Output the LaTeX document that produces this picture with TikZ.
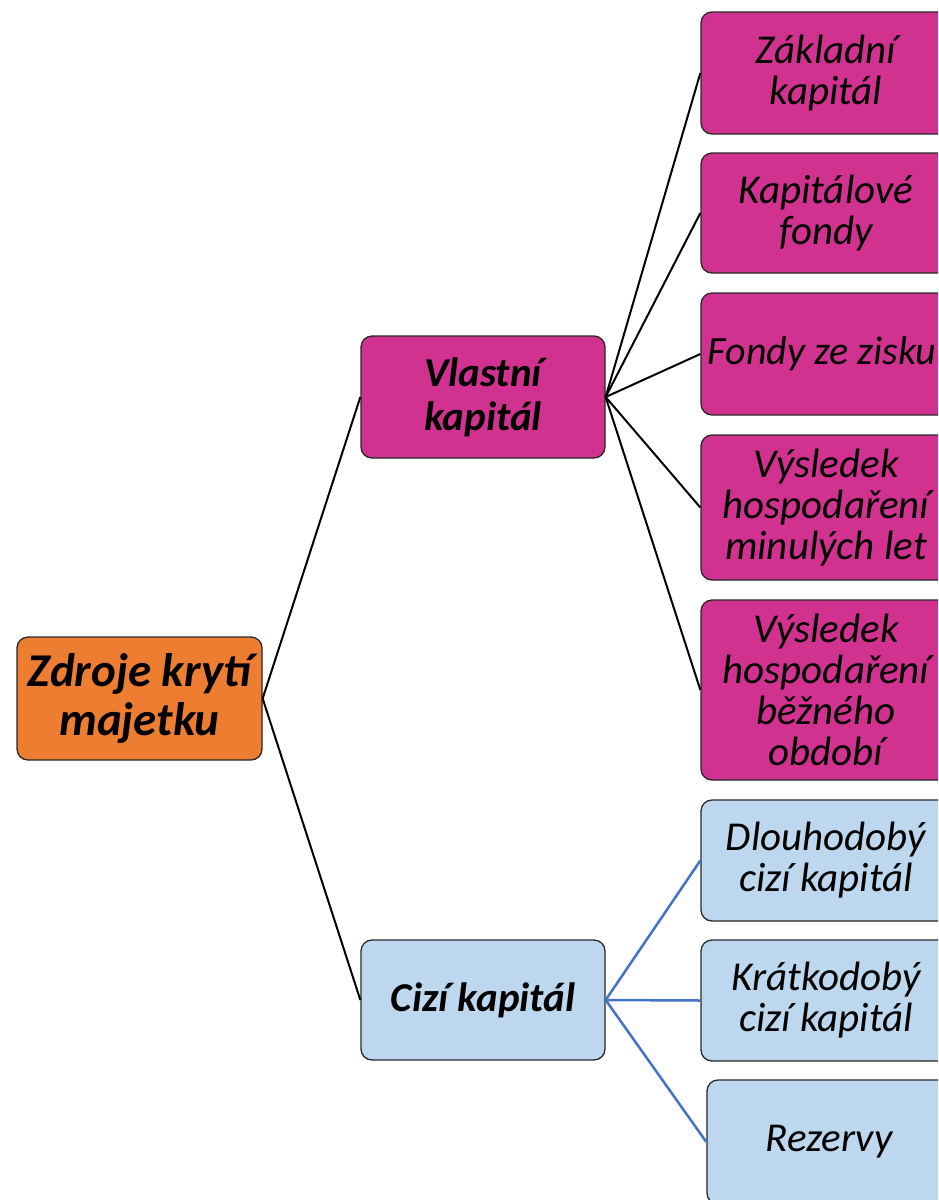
\documentclass[tikz,border=0pt]{standalone}
\usepackage{fontspec}
\setmainfont{Carlito}
\definecolor{rootc}{RGB}{237,125,49}
\definecolor{magc}{RGB}{210,50,143}
\definecolor{bluec}{RGB}{189,215,238}
\definecolor{lineb}{RGB}{68,114,196}
\definecolor{edgec}{RGB}{40,40,40}
\tikzset{
  box/.style={draw=edgec, line width=1.3pt, rounded corners=11pt, align=center, inner sep=0pt, text=black},
  rootbox/.style={box, fill=rootc, font=\fontsize{47}{49}\selectfont\bfseries\itshape},
  midbox/.style={box, font=\fontsize{41}{44}\selectfont\bfseries\itshape},
  leafbox/.style={box, font=\fontsize{41}{41}\selectfont\itshape},
  blk/.style={draw=black, line width=2pt},
  blu/.style={draw=lineb, line width=2.5pt},
}
\begin{document}
\begin{tikzpicture}[x=1pt,y=-1pt]
\useasboundingbox (0,0) rectangle (938,1200);
\clip (0,0) rectangle (938,1200);
% root
\node[rootbox, minimum width=245pt, minimum height=123pt] (root) at (139.5,698.5) {Zdroje krytí\\majetku};
% mid
\node[midbox, fill=magc, minimum width=244pt, minimum height=122pt] (vk) at (483,397) {Vlastní\\kapitál};
\node[midbox, fill=bluec, minimum width=244pt, minimum height=120pt] (ck) at (483,1000) {Cizí kapitál};
% magenta leaves
\node[leafbox, fill=magc, minimum width=250pt, minimum height=122pt] (l1) at (826,73) {Základní\\kapitál};
\node[leafbox, fill=magc, minimum width=250pt, minimum height=120pt] (l2) at (826,213) {Kapitálové\\fondy};
\node[leafbox, fill=magc, minimum width=250pt, minimum height=122pt, font=\fontsize{40}{41}\selectfont\itshape] (l3) at (826,354) {Fondy ze zisku\hspace*{8pt}};
\node[leafbox, fill=magc, minimum width=250pt, minimum height=145pt] (l4) at (826,507.5) {Výsledek\\hospodaření\\minulých let};
\node[leafbox, fill=magc, minimum width=250pt, minimum height=180pt] (l5) at (826,690) {Výsledek\\hospodaření\\běžného\\období};
% blue leaves
\node[leafbox, fill=bluec, minimum width=250pt, minimum height=121pt] (b1) at (826,860.5) {Dlouhodobý\\cizí kapitál};
\node[leafbox, fill=bluec, minimum width=250pt, minimum height=121pt] (b2) at (826,1000.5) {Krátkodobý\\cizí kapitál};
\node[leafbox, fill=bluec, minimum width=244pt, minimum height=124pt] (b3) at (829,1142) {Rezervy};
% connectors
\draw[blk] (root.east) -- (vk.west);
\draw[blk] (root.east) -- (ck.west);
\foreach \t in {l1,l2,l3,l4,l5} \draw[blk] (vk.east) -- (\t.west);
\foreach \t in {b1,b2,b3} \draw[blu] (ck.east) -- (\t.west);
\end{tikzpicture}
\end{document}
